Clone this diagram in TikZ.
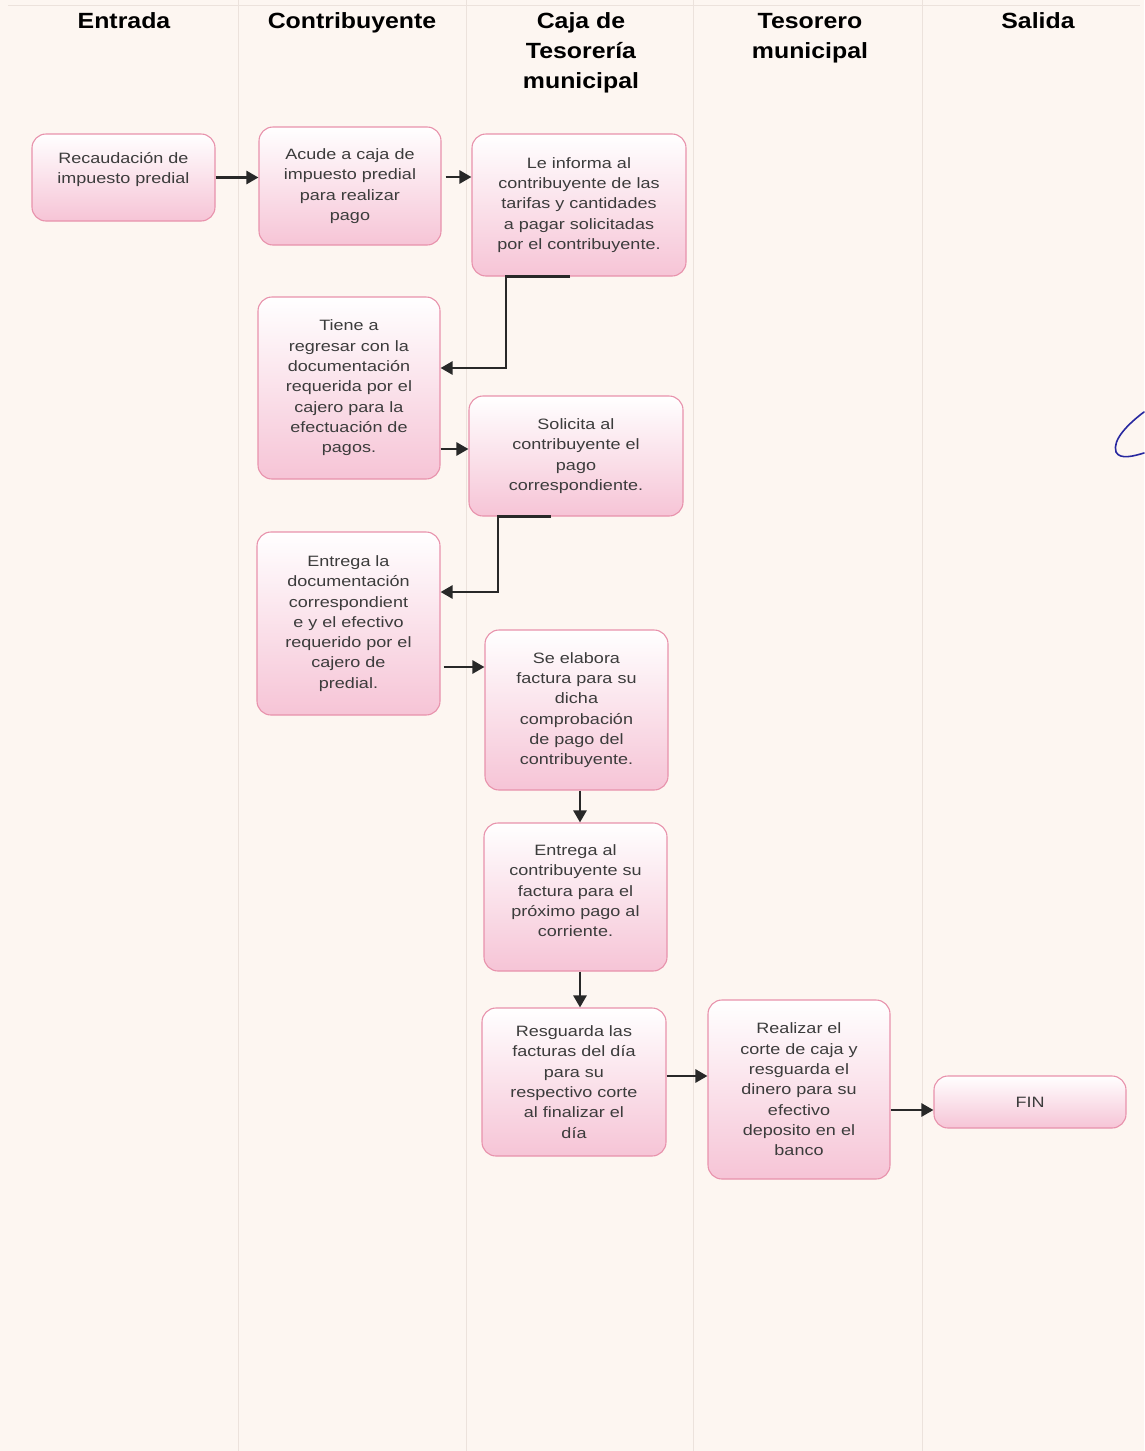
\documentclass[tikz,border=0pt]{standalone}
\usepackage{fontspec}
\setmainfont{Liberation Sans}
\newfontfamily\boxfont[FakeStretch=1.2]{Liberation Sans}
\newfontfamily\headfont[FakeStretch=1.13]{Liberation Sans}
\usetikzlibrary{arrows.meta}
\definecolor{paper}{RGB}{253,246,241}
\definecolor{laneline}{RGB}{236,226,220}
\definecolor{boxline}{RGB}{232,146,172}
\definecolor{boxpink}{RGB}{246,196,214}
\definecolor{boxmid}{RGB}{252,236,242}
\definecolor{txt}{RGB}{60,60,60}
\definecolor{ink}{RGB}{40,40,40}
\definecolor{pen}{RGB}{40,40,160}
\begin{document}
\begin{tikzpicture}[x=1pt,y=-1pt,
  stepbox/.style={draw=boxline, line width=1.1pt, rounded corners=14pt,
    top color=white, middle color=boxmid, bottom color=boxpink,
    align=center, text=txt, inner sep=0pt,
    font=\boxfont\fontsize{15}{20.3}\selectfont},
  lanehead/.style={align=center, text=black, font=\headfont\fontsize{22}{30}\selectfont\bfseries, anchor=north},
  conn/.style={draw=ink, line width=2.6pt, -{Triangle[width=13pt,length=12pt]}},
  lane/.style={draw=laneline, line width=1pt}]

% page
\fill[paper] (0,0) rectangle (1144,1451);
\useasboundingbox (0,0) rectangle (1144,1451);

% lane separators
\foreach \lx in {238,466,693,922} \draw[lane] (\lx,0) -- (\lx,1451);
\draw[lane] (8,5) -- (1140,5);

% lane headings
\node[lanehead] (h1) at (124,9.5) {Entrada};
\node[lanehead] (h2) at (352,9.5) {Contribuyente};
\node[lanehead] (h3) at (581,9.5) {Caja de\\Tesorería\\municipal};
\node[lanehead] (h4) at (810,9.5) {Tesorero\\municipal};
\node[lanehead] (h5) at (1038,9.5) {Salida};

% process steps
\node[stepbox, minimum width=183pt, minimum height=87pt] (n1) at (123.5,177.5)
  {Recaudación de\\impuesto predial\\[-8pt]\strut};
\node[stepbox, minimum width=182pt, minimum height=118pt] (n2) at (350,186)
  {Acude a caja de\\impuesto predial\\para realizar\\pago};
\node[stepbox, minimum width=214pt, minimum height=142pt] (n3) at (579,205)
  {Le informa al\\contribuyente de las\\tarifas y cantidades\\a pagar solicitadas\\por el contribuyente.};
\node[stepbox, minimum width=182pt, minimum height=182pt] (n4) at (349,388)
  {Tiene a\\regresar con la\\documentación\\requerida por el\\cajero para la\\efectuación de\\pagos.};
\node[stepbox, minimum width=214pt, minimum height=120pt] (n5) at (576,456)
  {Solicita al\\contribuyente el\\pago\\correspondiente.};
\node[stepbox, minimum width=183pt, minimum height=183pt] (n6) at (348.5,623.5)
  {Entrega la\\documentación\\correspondient\\e y el efectivo\\requerido por el\\cajero de\\predial.};
\node[stepbox, minimum width=183pt, minimum height=160pt] (n7) at (576.5,710)
  {Se elabora\\factura para su\\dicha\\comprobación\\de pago del\\contribuyente.};
\node[stepbox, minimum width=183pt, minimum height=148pt] (n8) at (575.5,897)
  {Entrega al\\contribuyente su\\factura para el\\próximo pago al\\corriente.\\[-14pt]\strut};
\node[stepbox, minimum width=184pt, minimum height=148pt] (n9) at (574,1082)
  {Resguarda las\\facturas del día\\para su\\respectivo corte\\al finalizar el\\día};
\node[stepbox, minimum width=182pt, minimum height=179pt] (n10) at (799,1089.5)
  {Realizar el\\corte de caja y\\resguarda el\\dinero para su\\efectivo\\deposito en el\\banco};
\node[stepbox, minimum width=192pt, minimum height=52pt] (n11) at (1030,1102)
  {FIN};

% connectors
\draw[conn] (n1.east) -- (n1.east -| n2.west);

\coordinate (a2) at ([yshift=9pt]n2.east);
\draw[conn, shorten <=4pt] (a2) -- (a2 -| n3.west);

\coordinate (b3) at (506,368);
\draw[conn] ([xshift=-9pt]n3.south) -| (b3) -- (b3 -| n4.east);

\coordinate (a4) at ([yshift=-61pt]n4.east);
\draw[conn] (a4) -- (a4 -| n5.west);

\coordinate (b5) at (498,592);
\draw[conn] ([xshift=-25pt]n5.south) -| (b5) -- (b5 -| n6.east);

\coordinate (a6) at ([yshift=-43.5pt]n6.east);
\draw[conn, shorten <=3pt] (a6) -- (a6 -| n7.west);

\coordinate (a7) at ([xshift=3.5pt]n7.south);
\draw[conn] (a7) -- (a7 |- n8.north);

\coordinate (a8) at ([xshift=4.5pt]n8.south);
\draw[conn] (a8) -- (a8 |- n9.north);

\coordinate (a9) at ([yshift=6pt]n9.east);
\draw[conn] (a9) -- (a9 -| n10.west);

\coordinate (a10) at ([yshift=-20.5pt]n10.east);
\draw[conn] (a10) -- (a10 -| n11.west);

% pen stroke at the right edge
\draw[pen, line width=1.6pt, line cap=round]
  (1144,412) .. controls (1128,424) and (1112,440) .. (1116,452)
  .. controls (1120,460) and (1134,456) .. (1144,453);
\end{tikzpicture}
\end{document}
